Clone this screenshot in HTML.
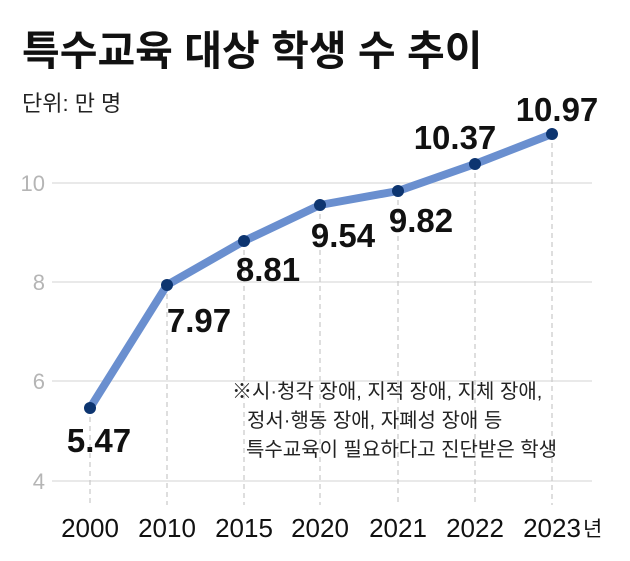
<!DOCTYPE html>
<html><head><meta charset="utf-8"><style>
html,body{margin:0;padding:0;background:#fff;}
svg{display:block;font-family:"Liberation Sans","Noto Sans CJK KR",sans-serif;}
</style></head><body>
<svg width="630" height="561" viewBox="0 0 630 561">
<rect width="630" height="561" fill="#fff"/>
<text x="22" y="65" font-size="41" font-weight="bold" fill="#111">특수교육 대상 학생 수 추이</text>
<text x="22" y="111" font-size="22" fill="#222">단위: 만 명</text>
<g stroke="#e2e2e2" stroke-width="1.5">
<line x1="52" y1="183" x2="592" y2="183"/>
<line x1="52" y1="282" x2="592" y2="282"/>
<line x1="52" y1="381" x2="592" y2="381"/>
<line x1="52" y1="481" x2="592" y2="481"/>
</g>
<g font-size="22" fill="#b5b5b5" text-anchor="end">
<text x="45" y="191">10</text><text x="45" y="290">8</text><text x="45" y="389">6</text><text x="45" y="489">4</text>
</g>
<g stroke="#c8c8c8" stroke-width="1.2" stroke-dasharray="5,4">
<line x1="90" y1="408" x2="90" y2="505"/>
<line x1="167" y1="285" x2="167" y2="505"/>
<line x1="244" y1="241" x2="244" y2="505"/>
<line x1="320" y1="205" x2="320" y2="505"/>
<line x1="398" y1="191" x2="398" y2="505"/>
<line x1="475" y1="164" x2="475" y2="505"/>
<line x1="552" y1="134" x2="552" y2="505"/>
</g>
<polyline points="90,408 167,285 244,241 320,205 398,191 475,164 552,134" fill="none" stroke="#6a8fcf" stroke-width="8" stroke-linejoin="round" stroke-linecap="round"/>
<g fill="#0d3570">
<circle cx="90" cy="408" r="6"/><circle cx="167" cy="285" r="6"/><circle cx="244" cy="241" r="6"/><circle cx="320" cy="205" r="6"/><circle cx="398" cy="191" r="6"/><circle cx="475" cy="164" r="6"/><circle cx="552" cy="134" r="6"/>
</g>
<g font-size="33" font-weight="bold" fill="#111" text-anchor="middle">
<text x="99" y="452">5.47</text>
<text x="199" y="332">7.97</text>
<text x="268" y="281">8.81</text>
<text x="343" y="247">9.54</text>
<text x="421" y="232">9.82</text>
<text x="455" y="149">10.37</text>
<text x="557" y="121">10.97</text>
</g>
<g font-size="20" fill="#222">
<text x="232" y="398">※시·청각 장애, 지적 장애, 지체 장애,</text>
<text x="247" y="427">정서·행동 장애, 자폐성 장애 등</text>
<text x="246" y="456">특수교육이 필요하다고 진단받은 학생</text>
</g>
<g font-size="26" fill="#111" text-anchor="middle">
<text x="90" y="537">2000</text><text x="167" y="537">2010</text><text x="244" y="537">2015</text><text x="320" y="537">2020</text><text x="398" y="537">2021</text><text x="475" y="537">2022</text><text x="552" y="537">2023</text>
</g>
<text x="583" y="536" font-size="21" fill="#111">년</text>
</svg>
</body></html>
